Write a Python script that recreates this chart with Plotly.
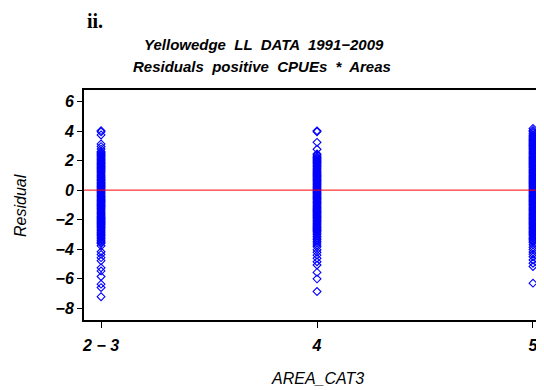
import plotly.graph_objects as go

# categories (positions 0,1,2 on x axis)
categories = ["2 − 3", "4", "5"]

res_area23 = [4.03, 3.95, 3.74, 3.13, 2.95, 2.78,
    2.62, 2.55, 2.47, 2.41, 2.33, 2.26, 2.18, 2.11, 2.04, 1.97, 1.89, 1.82, 1.76, 1.68,
    1.61, 1.53, 1.47, 1.39, 1.32, 1.25, 1.18, 1.10, 1.03, 0.96, 0.89, 0.82, 0.74, 0.68,
    0.61, 0.53, 0.46, 0.39, 0.31, 0.24, 0.17, 0.10, 0.03, -0.04, -0.11, -0.18, -0.26,
    -0.33, -0.40, -0.47, -0.54, -0.62, -0.69, -0.76, -0.83, -0.90, -0.97, -1.05, -1.12,
    -1.19, -1.26, -1.33, -1.41, -1.48, -1.55, -1.62, -1.69, -1.77, -1.84, -1.91, -1.98,
    -2.05, -2.13, -2.20, -2.27, -2.34, -2.41, -2.49, -2.56, -2.63, -2.70, -2.78, -2.85,
    -2.92, -3.01, -3.09, -3.18, -3.27, -3.38, -3.46, -3.55, -3.62,
    -3.78, -4.18, -4.36, -4.58, -4.79, -5.27, -5.48, -5.86, -6.38, -6.61, -7.23]

res_area4 = [4.02, 3.96, 3.24, 2.77, 2.45, 2.38,
    2.27, 2.21, 2.14, 2.06, 1.99, 1.92, 1.85, 1.78, 1.70, 1.63, 1.56, 1.49, 1.42, 1.35,
    1.27, 1.20, 1.13, 1.06, 0.99, 0.92, 0.84, 0.77, 0.70, 0.63, 0.56, 0.48, 0.41, 0.34,
    0.27, 0.20, 0.13, 0.05, -0.02, -0.09, -0.16, -0.23, -0.31, -0.38, -0.45, -0.52,
    -0.59, -0.66, -0.74, -0.81, -0.88, -0.95, -1.02, -1.09, -1.17, -1.24, -1.31, -1.38,
    -1.45, -1.52, -1.60, -1.67, -1.74, -1.81, -1.88, -1.95, -2.03, -2.10, -2.17, -2.24,
    -2.31, -2.38, -2.46, -2.53, -2.60, -2.67, -2.74, -2.82, -2.91, -3.02, -3.13, -3.24,
    -3.35, -3.47, -3.58,
    -3.72, -3.85, -4.05, -4.22, -4.41, -4.63, -4.86, -5.08, -5.58, -6.02, -6.88]

res_area5 = [4.18, 4.05, 3.97, 3.86,
    3.74, 3.67, 3.60, 3.52, 3.45, 3.38, 3.31, 3.24, 3.16, 3.09, 3.02, 2.95, 2.88, 2.81,
    2.73, 2.66, 2.59, 2.52, 2.45, 2.38, 2.30, 2.23, 2.16, 2.09, 2.02, 1.95, 1.87, 1.80,
    1.73, 1.66, 1.59, 1.52, 1.44, 1.37, 1.30, 1.23, 1.16, 1.09, 1.01, 0.94, 0.87, 0.80,
    0.73, 0.66, 0.58, 0.51, 0.44, 0.37, 0.30, 0.23, 0.15, 0.08, 0.01, -0.06, -0.13,
    -0.20, -0.28, -0.35, -0.42, -0.49, -0.56, -0.63, -0.71, -0.78, -0.85, -0.92, -0.99,
    -1.06, -1.14, -1.21, -1.28, -1.35, -1.42, -1.49, -1.57, -1.64, -1.71, -1.78, -1.85,
    -1.92, -2.00, -2.07, -2.14, -2.21, -2.28, -2.35, -2.43, -2.50, -2.57, -2.64, -2.71,
    -2.79, -2.86, -2.93, -3.01, -3.10, -3.19, -3.28, -3.37, -3.46, -3.55,
    -3.71, -3.88, -4.02, -4.19, -4.35, -4.52, -4.74, -4.96, -5.18, -6.31]

y_ticks = [-8, -6, -4, -2, 0, 2, 4, 6]

groups = [res_area23, res_area4, res_area5]

fig = go.Figure()
for i, vals in enumerate(groups):
    fig.add_trace(go.Scatter(
        x=[i] * len(vals), y=vals, mode="markers",
        marker=dict(symbol="diamond-open", size=6, color="#0000FF",
                    line=dict(width=1.1, color="#0000FF")),
        showlegend=False, hoverinfo="y"))

# the page body has an 8px margin, so the figure is 8px smaller and shifted
OFF = 8
W, H = 544 - OFF, 390 - OFF
L, R, T, B = 84 - OFF, 0, 90 - OFF, 390 - 320
pw = W - L - R
ph = H - T - B

def px_x(p):
    return (p - OFF - L) / pw

def px_y(p):
    return (H - B - (p - OFF)) / ph

tickfont = dict(family="Liberation Sans", size=16, color="black",
                weight="bold", style="italic")

fig.update_layout(
    width=W, height=H,
    margin=dict(l=L, r=R, t=T, b=B, pad=0),
    paper_bgcolor="white", plot_bgcolor="white",
    xaxis=dict(range=[-0.079, 2.051], tickvals=[0, 1, 2], ticktext=categories,
               showgrid=False, zeroline=False, showline=True, linecolor="black",
               linewidth=2, mirror=True, ticks="outside", ticklen=6,
               tickcolor="black", tickwidth=1, tickfont=tickfont,
               ticklabelstandoff=4, fixedrange=True),
    yaxis=dict(range=[-8.81, 6.79], tickvals=y_ticks,
               showgrid=False, zeroline=False, showline=True, linecolor="black",
               linewidth=2, mirror=False, ticks="outside", ticklen=5,
               tickcolor="black", tickwidth=1, tickfont=tickfont, fixedrange=True),
    shapes=[dict(type="line", xref="paper", yref="y", x0=0, x1=1, y0=0, y1=0,
                 line=dict(color="red", width=1))],
    annotations=[
        dict(text="<b>ii.</b>", xref="paper", yref="paper", x=px_x(85), y=px_y(8),
             xanchor="left", yanchor="top", showarrow=False,
             font=dict(family="Liberation Serif", size=20, color="black")),
        dict(text="Yellowedge  LL  DATA  1991−2009", xref="paper", yref="paper",
             x=px_x(264), y=px_y(44), xanchor="center", yanchor="middle",
             showarrow=False,
             font=dict(family="Liberation Sans", size=15, color="black",
                       weight="bold", style="italic")),
        dict(text="Residuals  positive  CPUEs  *  Areas", xref="paper", yref="paper",
             x=px_x(262), y=px_y(67), xanchor="center", yanchor="middle",
             showarrow=False,
             font=dict(family="Liberation Sans", size=15, color="black",
                       weight="bold", style="italic")),
        dict(text="Residual", xref="paper", yref="paper", x=px_x(20), y=px_y(206),
             xanchor="center", yanchor="middle", textangle=-90, showarrow=False,
             font=dict(family="Liberation Sans", size=16, color="black",
                       style="italic")),
        dict(text="AREA_CAT3", xref="paper", yref="paper", x=px_x(317), y=px_y(378),
             xanchor="center", yanchor="middle", showarrow=False,
             font=dict(family="Liberation Sans", size=16, color="black",
                       style="italic")),
    ],
)

fig.write_html("out.html")
